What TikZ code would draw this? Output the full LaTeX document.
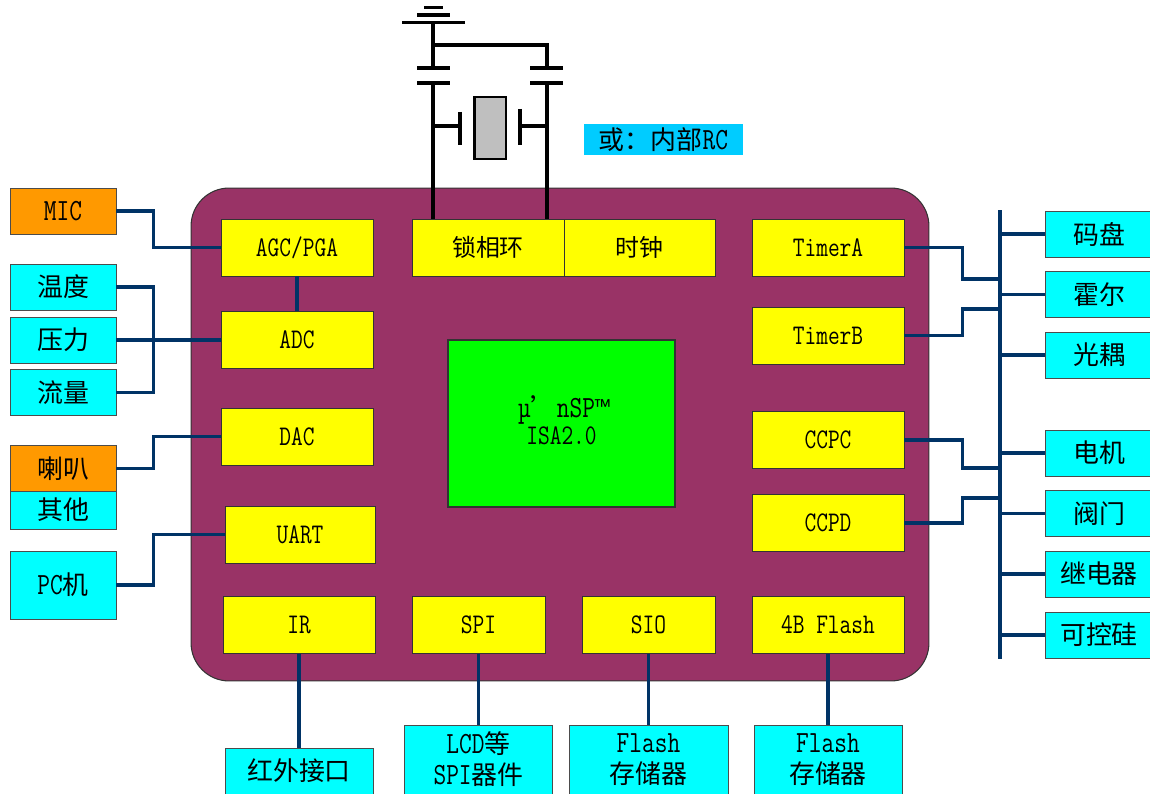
\documentclass[tikz,border=0pt]{standalone}
\usepackage{fontspec}
\setmonofont[Scale=1.25, FakeStretch=0.8]{Latin Modern Mono}
\newfontfamily\cjk[Scale=1.05]{Noto Sans CJK SC}
\newfontfamily\tmfont{Liberation Mono}
\newcommand{\zh}[1]{{\cjk #1}}
\newcommand{\outerfont}{\ttfamily\fontsize{14.04pt}{17.6pt}\selectfont}
\newcommand{\innerfont}{\ttfamily\fontsize{12.96pt}{15.3pt}\selectfont}
\definecolor{chipplum}{HTML}{993366}
\definecolor{busblue}{HTML}{003366}
\definecolor{rcblue}{HTML}{00CCFF}
\definecolor{hornorange}{HTML}{FF9900}
\definecolor{boxcyan}{HTML}{00FFFF}
\definecolor{boxyellow}{HTML}{FFFF00}
\definecolor{coregreen}{HTML}{00FF00}
\tikzset{
    yellowbox/.style={rectangle, draw=black!80, line width=0.5pt, fill=boxyellow, inner sep=0pt, minimum width=3.04cm, minimum height=1.14cm, font=\innerfont},
    cyanbox/.style={rectangle, draw=black!70, line width=0.5pt, fill=boxcyan, inner sep=0pt, minimum width=2.12cm, minimum height=0.92cm, align=center, font=\outerfont},
    orangebox/.style={cyanbox, fill=hornorange},
    busline/.style={busblue, line width=2pt},
    wire/.style={black, line width=2pt}
}
\begin{document}
\begin{tikzpicture}[x=0.02cm, y=-0.02cm]
    \useasboundingbox (0,0) rectangle (1150,794);

    % Define chip body and center core
    \node[rectangle, draw=black!80, line width=0.6pt, fill=chipplum, rounded corners=0.76cm, minimum width=14.76cm, minimum height=9.86cm] at (560,434.5) (chip) {};
    \node[rectangle, draw=black!80, line width=0.6pt, fill=coregreen, inner sep=0pt, minimum width=4.54cm, minimum height=3.34cm] at (561.5,423.5) (core) {};
    \node[inner sep=0pt, align=center, font=\innerfont] at (564,420) (coretext) {{\fontsize{14.04pt}{15.3pt}\selectfont µ\zh{’}nSP{\tmfont ™}}\\\hspace*{-0.1cm}ISA2.0};

    % Define yellow blocks
    \node[yellowbox] at (297,247.5) (agc) {AGC/PGA};
    \node[yellowbox] at (297,340) (adc) {ADC};
    \node[yellowbox] at (297,436.5) (dac) {DAC};
    \node[yellowbox, minimum width=3cm] at (300,534.5) (uart) {UART};
    \node[yellowbox] at (299,625) (ir) {IR};
    \node[yellowbox, minimum width=2.66cm] at (478.5,625) (spi) {SPI};
    \node[yellowbox, minimum width=2.66cm] at (648.5,625) (sio) {SIO};
    \node[yellowbox] at (828,625) (flash) {4B Flash};
    \node[yellowbox] at (488,247.5) (pll) {\zh{锁相环}};
    \node[yellowbox, minimum width=3.02cm] at (639.5,247.5) (clock) {\zh{时钟}};
    \node[yellowbox] at (828,247.5) (timera) {TimerA};
    \node[yellowbox] at (828,335.5) (timerb) {TimerB};
    \node[yellowbox] at (828,440) (ccpc) {CCPC};
    \node[yellowbox] at (828,523) (ccpd) {CCPD};

    % Define left side boxes
    \node[orangebox] at (63,211) (mic) {MIC};
    \node[cyanbox] at (63,287) (wendu) {\zh{温度}};
    \node[cyanbox] at (63,340) (yali) {\zh{压力}};
    \node[cyanbox] at (63,392.5) (liuliang) {\zh{流量}};
    \node[cyanbox, minimum height=0.76cm] at (63,510) (other) {\zh{其他}};
    \node[orangebox] at (63,468.5) (horn) {\zh{喇叭}};
    \node[cyanbox, minimum height=1.36cm] at (63,585) (pc) {PC\zh{机}};

    % Define right side boxes
    \node[cyanbox, minimum width=2.16cm] at (1099,234) (mapan) {\zh{码盘}};
    \node[cyanbox, minimum width=2.16cm] at (1099,294.5) (huoer) {\zh{霍尔}};
    \node[cyanbox, minimum width=2.16cm] at (1099,355) (guangou) {\zh{光耦}};
    \node[cyanbox, minimum width=2.16cm] at (1099,453) (dianji) {\zh{电机}};
    \node[cyanbox, minimum width=2.16cm] at (1099,513.5) (famen) {\zh{阀门}};
    \node[cyanbox, minimum width=2.16cm] at (1099,574) (jidian) {\zh{继电器}};
    \node[cyanbox, minimum width=2.16cm] at (1099,635) (kekong) {\zh{可控硅}};

    % Define bottom boxes
    \node[cyanbox, minimum width=2.96cm] at (299,771) (hongwai) {\zh{红外接口}};
    \node[cyanbox, minimum width=2.96cm, minimum height=1.38cm] at (478.5,759.5) (lcd) {LCD\zh{等}\\SPI\zh{器件}};
    \node[cyanbox, minimum width=3.18cm, minimum height=1.38cm] at (648.5,759.5) (flasha) {Flash\\\zh{存储器}};
    \node[cyanbox, minimum width=2.96cm, minimum height=1.38cm] at (828,759.5) (flashb) {Flash\\\zh{存储器}};

    % Define RC note
    \node[rectangle, fill=rcblue, inner sep=0pt, minimum width=3.18cm, minimum height=0.62cm, font=\outerfont] at (663.5,139.5) (rcnote) {\zh{或：内部}RC};

    % Draw left connectors
    \draw[busline] (mic.east) -- ++(37,0) |- (agc.west);
    \draw[busline] (wendu.east) -- ++(37,0) |- (liuliang.east);
    \draw[busline] (yali.east) -- (adc.west);
    \draw[busline] (agc.south) -- (adc.north);
    \draw[busline] (horn.east) -- ++(37,0) |- (dac.west);
    \draw[busline] (pc.east) -- ++(37,0) |- (uart.west);

    % Draw bottom connectors
    \draw[busline] (ir.south) -- (hongwai.north);
    \draw[busline] (spi.south) -- (lcd.north);
    \draw[busline] (sio.south) -- (flasha.north);
    \draw[busline] (flash.south) -- (flashb.north);

    % Define bus and its taps
    \coordinate (bustop) at (1000,210);
    \coordinate (busend) at (1000,659);
    \coordinate (tapa) at (1000,279);
    \coordinate (tapb) at (1000,309);
    \coordinate (tapc) at (1000,468);
    \coordinate (tapd) at (1000,498);

    % Draw right connectors
    \draw[busline] (bustop) -- (busend);
    \draw[busline] (timera.east) -- ++(58,0) |- (tapa);
    \draw[busline] (timerb.east) -- ++(58,0) |- (tapb);
    \draw[busline] (ccpc.east) -- ++(58,0) |- (tapc);
    \draw[busline] (ccpd.east) -- ++(58,0) |- (tapd);
    \foreach \name in {mapan, huoer, guangou, dianji, famen, jidian, kekong}
        \draw[busline] (\name.west) -- (\name.west -| bustop);

    % Define crystal circuit points
    \coordinate (gnd) at (433,22.5);
    \coordinate (capla) at (433,68);
    \coordinate (caplb) at (433,83);
    \coordinate (capra) at (547,68);
    \coordinate (caprb) at (547,83);
    \coordinate (join) at (433,45);
    \node[rectangle, draw=black, line width=1.7pt, fill=black!25, inner sep=0pt, minimum width=0.64cm, minimum height=1.24cm] at (490,128) (xtal) {};
    \coordinate (xtall) at (460,126);
    \coordinate (xtalr) at (520,126);

    % Draw ground symbol
    \draw[wire] (gnd) ++(-31,0) -- ++(63,0);
    \draw[wire] (gnd) ++(-16,-7.5) -- ++(33,0);
    \draw[wire] (gnd) ++(-9,-15) -- ++(19,0);

    % Draw capacitors and crystal leads
    \draw[wire] (gnd) -- (capla);
    \draw[wire] (join) -| (capra);
    \draw[wire] (capla) ++(-16,0) -- ++(33,0);
    \draw[wire] (caplb) ++(-16,0) -- ++(33,0);
    \draw[wire] (capra) ++(-17,0) -- ++(33,0);
    \draw[wire] (caprb) ++(-17,0) -- ++(33,0);
    \draw[wire] (caplb) -- (caplb |- pll.north);
    \draw[wire] (caprb) -- (caprb |- pll.north);
    \draw[wire] (xtall |- 0,112) -- (xtall |- 0,145);
    \draw[wire] (xtalr |- 0,109) -- (xtalr |- 0,145);
    \draw[wire] (caplb |- xtall) -- (xtall);
    \draw[wire] (caprb |- xtalr) -- (xtalr);
\end{tikzpicture}
\end{document}
